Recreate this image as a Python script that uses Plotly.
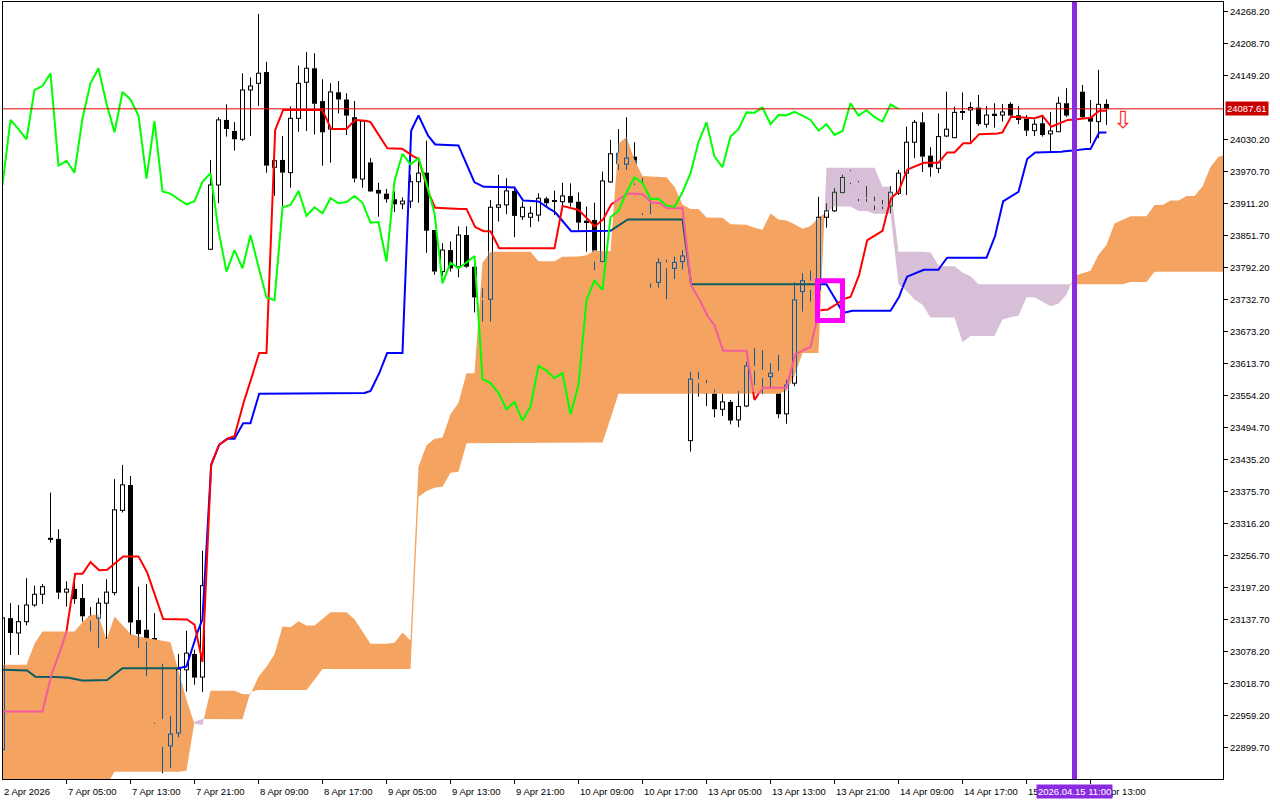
import plotly.graph_objects as go

# ---------------- data (H1 bars, index 0..138) ----------------
opens = [22896, 23140.6, 23113, 23134, 23165, 23185, 23290, 23288, 23189, 23195,
         23178, 23144, 23140.5, 23168.5, 23188, 23341, 23388, 23137, 23119, 23103,
         22953, 22903, 22927, 23044.5, 23074, 23031, 23826.5, 23946, 24067, 24046.5,
         24031, 24122.7, 24135, 24156, 23979, 23992.6, 23969, 24070, 24137, 24163,
         24102, 24050, 24118.4, 24105, 24072, 23957, 23988, 23937, 23930, 23919.5,
         23910.8, 23916, 23952, 23969, 23862.4, 23785, 23825, 23794, 23853, 23794,
         23735.5, 23733.6, 23904.6, 23909, 23935, 23887, 23886, 23890, 23921, 23917,
         23915, 23925.6, 23915, 23879.7, 23881, 23803.5, 23951.7, 24006, 23984.6, 23998.7,
         23948, 23892, 23765, 23802, 23791, 23803.5, 23470.7, 23585, 23577.5, 23560,
         23529, 23542.7, 23509.2, 23535, 23609.6, 23602, 23589.7, 23600.3, 23520.4, 23577.5,
         23747.7, 23768, 23751, 23886, 23898, 23931.8, 23972, 23951, 23922.5, 23916,
         23910, 23907, 23930.7, 23968, 24025.5, 24062.6, 24000.6, 23977, 24037, 24034,
         24083.6, 24085.5, 24090, 24059, 24078.6, 24076, 24096.7, 24075.7, 24069.3, 24047,
         24060.8, 24041, 24045, 24098, 24075, 24119.5, 24072, 24063.8, 24096.7]
highs = [23145, 23168.5, 23165, 23215, 23201, 23204, 23374, 23306, 23209, 23209,
         23204, 23161, 23178, 23213, 23399, 23425.6, 23405, 23199, 23204, 23150,
         23056, 22959, 23074, 23117, 23082, 23266, 23992.6, 24072, 24096, 24063,
         24153.7, 24146, 24264, 24175, 23991, 24037, 24092, 24168, 24193, 24191,
         24142.6, 24135, 24139.4, 24116.6, 24102, 24065, 23996, 23950, 23938.6, 23934,
         23923, 23965, 23996, 24028.4, 23862.4, 23837.7, 23841, 23869, 23869, 23813,
         23754, 23918, 23965, 23958.5, 23943, 23915, 23906, 23930.7, 23924, 23935.5,
         23950, 23949, 23932, 23906, 23913, 23971, 24030, 24050, 24072, 24025.5,
         23959, 23920, 23810, 23807, 23813, 23825, 23599, 23599, 23583.6, 23566,
         23557.5, 23546.4, 23563, 23617.6, 23642.5, 23639, 23614.6, 23630, 23583.6, 23765,
         23782, 23786.8, 23924, 23912, 23940, 23965, 23974, 23953.5, 23944, 23924.3,
         23918, 23944, 23974, 24054.5, 24067, 24081, 24016, 24079, 24119.5, 24091.6,
         24118, 24100, 24113.4, 24093, 24098, 24096.7, 24100, 24093, 24076, 24068,
         24073, 24082, 24110, 24126, 24105, 24132, 24104, 24159.9, 24105]
lows = [22892, 23072, 23072, 23127, 23162, 23167, 23281, 23176, 23162, 23167,
        23134, 23116, 23085, 23102, 23183, 23337, 23109.5, 23085, 23033, 22944,
        22852, 22862, 22919, 23004, 23017, 23003, 23825, 23912, 24036, 24010,
        24028, 24037, 24093, 23969, 23926, 23907, 23941, 24045, 24046.5, 24040,
        23982, 23987.5, 24079, 24039, 23951, 23941, 23933, 23887, 23913, 23896,
        23901, 23903, 23913, 23820, 23779, 23777, 23785, 23774.5, 23792, 23709,
        23692, 23692, 23878, 23891.6, 23849, 23881, 23867.5, 23878, 23907, 23890,
        23906, 23906, 23862.4, 23822, 23788, 23803, 23950, 23974, 23974, 23946,
        23890, 23755, 23755, 23733.6, 23771, 23789, 23450.3, 23552.5, 23535, 23514,
        23516.7, 23501, 23495.6, 23533, 23574, 23557, 23570, 23512.4, 23502, 23572,
        23710.6, 23729, 23747, 23866.7, 23896, 23931, 23947.4, 23916, 23915, 23899.6,
        23901, 23893.5, 23927.5, 23927.5, 23995.7, 23970, 23961.5, 23968, 24035, 24033,
        24067, 24026.6, 24055.8, 24052.6, 24052.6, 24063.8, 24072.5, 24059, 24037, 24037,
        24036, 24008, 24044.6, 24072.5, 24060, 24070.6, 24023.6, 24033, 24057.6]
closes = [23141, 23113, 23134, 23165, 23185, 23199, 23286, 23188, 23194.5, 23176,
          23144, 23136, 23168.5, 23189, 23342, 23388.4, 23132.4, 23111, 23097, 22946,
          22901, 22925, 23046, 23075.5, 23030, 23201, 23946, 24067, 24050, 24031,
          24122.7, 24130, 24153.7, 23982, 23991, 23969, 24070, 24135, 24163, 24097,
          24044, 24119, 24105, 24075, 23958, 24065, 23934, 23930, 23919.5, 23910,
          23916, 23952, 23968, 23861, 23785, 23825, 23791, 23853, 23794, 23737,
          23732, 23904.6, 23909, 23935, 23888.5, 23904.6, 23893.5, 23921.4, 23912, 23914.5,
          23925.6, 23913, 23876, 23877, 23803.5, 23953.5, 24004, 23984.6, 23996, 23949,
          23893.5, 23763, 23801.6, 23791, 23802, 23814, 23585, 23577.5, 23559, 23529,
          23542.7, 23508, 23534, 23609.6, 23601, 23586.7, 23596, 23519.8, 23574, 23732.3,
          23768, 23751, 23886, 23898, 23932.5, 23960, 23950, 23920, 23920.6, 23907.6,
          23905.7, 23932.5, 23968, 24025.5, 24062.6, 23998.7, 23979, 24036, 24049.7, 24081,
          24080.5, 24090, 24059, 24076, 24075.7, 24081.8, 24075, 24067, 24047, 24059,
          24039, 24046.5, 24098, 24075, 24085, 24072, 24063.8, 24096, 24087.61]

# Tenkan-sen (red) and Kijun-sen (blue), read per bar
tenkan = [22967, 22967, 22967, 22967, 22967, 22967, 23032, 23069, 23116, 23223,
          23223, 23245, 23229.5, 23229.5, 23242, 23255.3, 23255.3, 23255.3, 23229.3, 23184.8,
          23138.8, 23138.8, 23138.8, 23138.8, 23128.5, 23059, 23422.3, 23462, 23474, 23479,
          23536.4, 23578.9, 23633.5, 23633.5, 24044.5, 24085.5, 24085.5, 24085.5, 24085.5, 24085.5,
          24085.5, 24050, 24050, 24050, 24067, 24067, 24063, 24039, 24014.8, 24013.2,
          24013.2, 24001.8, 23994.5, 23942.5, 23903.7, 23902.7, 23902.7, 23901.5, 23901.5, 23868.7,
          23860.2, 23860.2, 23828.5, 23828.5, 23828.5, 23828.5, 23828.5, 23828.5, 23828.5, 23828.5,
          23907, 23903.8, 23899.5, 23886, 23869, 23879.5, 23909, 23919, 23930, 23930,
          23930, 23913.5, 23913.5, 23902.8, 23902.8, 23902.8, 23761.2, 23737.9, 23704.7, 23685.2,
          23637.7, 23637.7, 23637.7, 23637.7, 23546.4, 23569.1, 23569.1, 23569.1, 23569.1, 23630.3,
          23638.8, 23644.4, 23713, 23713, 23721, 23733.5, 23738, 23773, 23842.3, 23851.5,
          23860.5, 23920.4, 23933.8, 23974, 23980.3, 23987.3, 23987.3, 23987.3, 24006.5, 24006.5,
          24023.5, 24023.5, 24040.5, 24040.5, 24040.5, 24043.8, 24073.1, 24072.3, 24072.3, 24070,
          24074.7, 24054, 24059, 24067, 24067, 24070, 24070, 24084, 24084]
kijun = [23044.5, 23044.5, 23044.5, 23044.5, 23032, 23031, 23031, 23031, 23031, 23027,
         23024.6, 23024.6, 23024.6, 23024.6, 23037, 23047.6, 23047.6, 23047.6, 23047.6, 23047.6,
         23047.6, 23047.6, 23047.6, 23050.6, 23100, 23138.8, 23422.3, 23462, 23474, 23474,
         23502.9, 23502.9, 23558, 23558, 23558, 23558, 23558, 23558, 23558, 23558,
         23558, 23558, 23558, 23558, 23558, 23558, 23563, 23591.5, 23633.5, 23633.5,
         23633.5, 24044.5, 24075.5, 24042, 24021.5, 24020.5, 24020.5, 24019.3, 23983.8, 23951,
         23942.5, 23942.5, 23942.5, 23942.5, 23941.5, 23917.3, 23915.7, 23915.7, 23904.3, 23897,
         23878.5, 23860.2, 23860.2, 23860.2, 23860.2, 23860.2, 23861, 23871, 23882, 23882,
         23882, 23882, 23882, 23882, 23882, 23882, 23761.2, 23761.2, 23761.2, 23761.2,
         23761.2, 23761.2, 23761.2, 23761.2, 23761.2, 23761.2, 23761.2, 23761.2, 23761.2, 23761.2,
         23761.2, 23761.2, 23761.2, 23761.2, 23737.9, 23707.7, 23712.2, 23712.2, 23712.2, 23712.2,
         23712.2, 23712.2, 23734.8, 23775.1, 23781.3, 23788.3, 23788.3, 23788.3, 23810.8, 23810.8,
         23810.8, 23810.8, 23810.8, 23810.8, 23845.8, 23915.1, 23924.3, 23933.3, 23993.1, 24006.5,
         24006.5, 24006.5, 24006.5, 24009.8, 24009.8, 24012.8, 24012.8, 24043.7, 24043.7]

# Senkou span A / B, bars 0..153 (cloud runs 26 bars ahead)
span_a = [23053.8, 23053.8, 23053.8, 23053.8, 23093, 23115.7, 23115.7, 23115.7, 23115.7, 23115.7,
          23133, 23146.7, 23146.7, 23100, 23143.6, 23128, 23111.4, 23106.4, 23103.4, 23100.2,
          23098.4, 23096, 23041.7, 22989, 22944, 22942, 23005.8, 23005.8, 23005.8, 23005.8,
          22999.5, 22999, 23031.5, 23050, 23073.5, 23125, 23123.8, 23134.8, 23127, 23127,
          23139.5, 23151.5, 23151.5, 23151.5, 23138.5, 23116.2, 23093.2, 23093.2, 23093.2, 23094.7,
          23114, 23099, 23422.3, 23462, 23474, 23476.5, 23519.6, 23540.9, 23595.8, 23595.8,
          23801.3, 23821.8, 23821.8, 23821.8, 23821.8, 23821.8, 23821.8, 23804, 23804, 23804,
          23812.5, 23812.5, 23813, 23815.3, 23824.2, 23823.4, 23823.4, 24023.2, 24035, 23992.3,
          23962.6, 23961.6, 23961.6, 23960.4, 23942.6, 23909.9, 23901.4, 23901.4, 23885.5, 23885.5,
          23885, 23872.9, 23872.1, 23872.1, 23866.4, 23862.8, 23892.8, 23882, 23879.9, 23873.1,
          23864.6, 23869.9, 23885, 23895, 23906, 23906, 23906, 23897.8, 23897.8, 23892.4,
          23892.4, 23892.4, 23761.2, 23749.5, 23732.9, 23723.2, 23699.4, 23699.4, 23699.4, 23699.4,
          23653.8, 23665.1, 23665.1, 23665.1, 23665.1, 23695.7, 23700, 23702.8, 23737.1, 23737.1,
          23729.5, 23720.6, 23725.1, 23742.6, 23777.2, 23781.8, 23786.3, 23816.3, 23834.3, 23874.5,
          23880.8, 23887.8, 23887.8, 23887.8, 23908.6, 23908.6, 23917.1, 23917.1, 23925.6, 23925.6,
          23943.1, 23979.4, 23998.7, 24002.8]
span_b = [22830, 22830, 22830, 22830, 22830, 22830, 22830, 22830, 22830, 22830,
          22830, 22830, 22830, 22830, 22855, 22855, 22855, 22855, 22855, 22855,
          22855, 22855, 22855, 22857, 22948, 22953, 22952.8, 22952.8, 22952.8, 22952.8,
          22952.8, 23003.6, 23007, 23007, 23007, 23007, 23007, 23007, 23007, 23026,
          23046, 23046, 23046, 23046, 23046, 23046, 23046, 23046, 23046, 23046,
          23046, 23046, 23366, 23377, 23383, 23385, 23411, 23413, 23466, 23467,
          23467, 23467, 23467, 23467, 23467, 23467, 23467, 23467, 23467, 23467,
          23467, 23467, 23467, 23467, 23467, 23467, 23512, 23558, 23558, 23558,
          23558, 23558, 23558, 23558, 23558, 23558, 23558, 23558, 23558, 23558,
          23558, 23558, 23558, 23558, 23558, 23558, 23558, 23558, 23563, 23591.5,
          23633.5, 23633.5, 23633.5, 23978, 23978, 23978, 23978, 23978, 23978, 23978,
          23942.5, 23942.5, 23821.7, 23821.7, 23821.7, 23821.7, 23820.7, 23796.5, 23794.9, 23794.9,
          23783.5, 23776.2, 23761.2, 23761.2, 23761.2, 23761.2, 23761.2, 23761.2, 23761.2, 23761.2,
          23761.2, 23761.2, 23761.2, 23761.2, 23761.2, 23761.2, 23761.2, 23761.2, 23761.2, 23761.2,
          23761.2, 23765.7, 23765.7, 23765.7, 23784.9, 23784.9, 23784.9, 23784.9, 23784.9, 23784.9,
          23784.9, 23784.9, 23784.9, 23784.9]

chikou_shift = 26
date_ticks = [0, 8, 16, 24, 32, 40, 48, 56, 64, 72, 80, 88, 96, 104, 112, 120, 128, 136]
date_labels = ["2 Apr 2026", "7 Apr 05:00", "7 Apr 13:00", "7 Apr 21:00", "8 Apr 09:00",
               "8 Apr 17:00", "9 Apr 05:00", "9 Apr 13:00", "9 Apr 21:00", "10 Apr 09:00",
               "10 Apr 17:00", "13 Apr 05:00", "13 Apr 13:00", "13 Apr 21:00", "14 Apr 09:00",
               "14 Apr 17:00", "15 Apr 05:00", "15 Apr 13:00"]
price_ticks = [24268.20, 24208.70, 24149.20, 24030.20, 23970.70, 23911.20, 23851.70, 23792.20,
               23732.70, 23673.20, 23613.70, 23554.20, 23494.70, 23435.20, 23375.70, 23316.20,
               23256.70, 23197.20, 23137.70, 23078.20, 23018.70, 22959.20, 22899.70]
last_price = 24087.61
cursor_bar = 134
cursor_label = "2026.04.15 11:00"
signal_bar = 140
signal_price = 24066
box_bars = [101.875, 105.0]
box_prices = [23694, 23768]

# ---------------- styling ----------------
ORANGE = "#F4A460"
THISTLE = "#D8BFD8"
CANDLE_COL = {"out": "#000000", "org": "#0B5B9F", "ths": "#274027"}
RED_COL = {"out": "#FF0000", "org": "#F45B9F", "ths": "#FF0000"}
BLUE_COL = {"out": "#0000FF", "org": "#0B5B60", "ths": "#0000FF"}
FONT = "Liberation Sans"
FS = 9.5
XR = [0.0625, 152.5625]
YR = [22841.5, 24286.24]
PX_PER_BAR = 8


def cloud_at(x):
    i = int(x)
    t = x - i
    if i >= len(span_a) - 1:
        i, t = len(span_a) - 2, 1.0
    a = span_a[i] + (span_a[i + 1] - span_a[i]) * t
    b = span_b[i] + (span_b[i + 1] - span_b[i]) * t
    return a, b


def region(x, v):
    a, b = cloud_at(x)
    if min(a, b) <= v <= max(a, b):
        return "org" if a >= b else "ths"
    return "out"


def pieces(i, lo, hi):
    if hi - lo <= 1e-9:
        return []
    a, b = span_a[i], span_b[i]
    cuts = sorted(set([lo, hi] + [c for c in (a, b) if lo < c < hi]))
    return [(u, v, region(i, (u + v) / 2)) for u, v in zip(cuts[:-1], cuts[1:])]


fig = go.Figure()

# ---- cloud ----
def sgn(i):
    return 1 if span_a[i] >= span_b[i] else -1

polys = []
s = sgn(0)
up, dn = [(0, span_a[0])], [(0, span_b[0])]
for i in range(len(span_a) - 1):
    s1 = sgn(i + 1)
    if s1 == s:
        up.append((i + 1, span_a[i + 1]))
        dn.append((i + 1, span_b[i + 1]))
    else:
        d0 = span_a[i] - span_b[i]
        d1 = span_a[i + 1] - span_b[i + 1]
        t = d0 / (d0 - d1)
        xc = i + t
        yc = span_a[i] + (span_a[i + 1] - span_a[i]) * t
        up.append((xc, yc))
        dn.append((xc, yc))
        polys.append((s, up, dn))
        up = [(xc, yc), (i + 1, span_a[i + 1])]
        dn = [(xc, yc), (i + 1, span_b[i + 1])]
        s = s1
polys.append((s, up, dn))
for s, up, dn in polys:
    xs = [p[0] for p in up] + [p[0] for p in reversed(dn)]
    ys = [p[1] for p in up] + [p[1] for p in reversed(dn)]
    fig.add_trace(go.Scatter(x=xs, y=ys, fill="toself", mode="lines",
                             line=dict(width=0), fillcolor=ORANGE if s == 1 else THISTLE,
                             hoverinfo="skip"))

# ---- candles ----
HALF_BODY = 0.625
OUT_OFF = 0.25
HOR_OFF = 0.3125
MIN_BODY = 1.8
seg = {r: ([], []) for r in CANDLE_COL}
bear = {r: ([], [], []) for r in CANDLE_COL}
bull_x, bull_base, bull_h = [], [], []
for i in range(len(opens)):
    o, h, l, c = opens[i], highs[i], lows[i], closes[i]
    lo, hi = min(o, c), max(o, c)
    if hi - lo < MIN_BODY:
        m = (lo + hi) / 2
        lo, hi = m - MIN_BODY / 2, m + MIN_BODY / 2
    for u, v, r in pieces(i, l, lo) + pieces(i, hi, h):
        seg[r][0].extend([i, i, None])
        seg[r][1].extend([u, v, None])
    if c < o:
        for u, v, r in pieces(i, lo, hi):
            bear[r][0].append(i)
            bear[r][1].append(u)
            bear[r][2].append(v - u)
    else:
        bull_x.append(i)
        bull_base.append(lo)
        bull_h.append(hi - lo)
        for side in (-OUT_OFF, OUT_OFF):
            for u, v, r in pieces(i, lo, hi):
                seg[r][0].extend([i + side, i + side, None])
                seg[r][1].extend([u, v, None])
        for yv in (lo, hi):
            r = region(i, yv)
            seg[r][0].extend([i - HOR_OFF, i + HOR_OFF, None])
            seg[r][1].extend([yv, yv, None])

fig.add_trace(go.Bar(x=bull_x, y=bull_h, base=bull_base, width=0.5,
                     marker=dict(color="#FFFFFF", line=dict(width=0)), hoverinfo="skip"))
for r, col in CANDLE_COL.items():
    if bear[r][0]:
        fig.add_trace(go.Bar(x=bear[r][0], y=bear[r][2], base=bear[r][1], width=HALF_BODY,
                             marker=dict(color=col, line=dict(width=0)), hoverinfo="skip"))
for r, col in CANDLE_COL.items():
    if seg[r][0]:
        fig.add_trace(go.Scatter(x=seg[r][0], y=seg[r][1], mode="lines",
                                 line=dict(color=col, width=1), hoverinfo="skip"))


# ---- tenkan / kijun with in-cloud colouring ----
def split_line(vals, sub=12):
    out = {r: ([], []) for r in CANDLE_COL}
    cur = None
    for i in range(len(vals) - 1):
        v0, v1 = vals[i], vals[i + 1]
        for k in range(sub):
            t0, t1 = k / sub, (k + 1) / sub
            tm = (t0 + t1) / 2
            r = region(i + tm, v0 + (v1 - v0) * tm)
            if r != cur:
                if cur is not None:
                    out[cur][0].append(None)
                    out[cur][1].append(None)
                out[r][0].append(i + t0)
                out[r][1].append(v0 + (v1 - v0) * t0)
                cur = r
            out[r][0].append(i + t1)
            out[r][1].append(v0 + (v1 - v0) * t1)
    return out

for vals, cols in ((kijun, BLUE_COL), (tenkan, RED_COL)):
    parts = split_line(vals)
    for r, (xs, ys) in parts.items():
        if xs:
            fig.add_trace(go.Scatter(x=xs, y=ys, mode="lines",
                                     line=dict(color=cols[r], width=2), hoverinfo="skip"))

# ---- chikou (close plotted 26 bars back) ----
ch_x = [i - chikou_shift for i in range(chikou_shift, len(closes))]
ch_y = closes[chikou_shift:]
fig.add_trace(go.Scatter(x=ch_x, y=ch_y, mode="lines",
                         line=dict(color="#00FF00", width=2), hoverinfo="skip"))

# ---- shapes ----
fig.add_shape(type="line", xref="paper", x0=0, x1=1, y0=last_price, y1=last_price,
              line=dict(color="#E00000", width=1), layer="above")
fig.add_shape(type="rect", x0=box_bars[0], x1=box_bars[1], y0=box_prices[0], y1=box_prices[1],
              line=dict(color="#FF00FF", width=5), layer="above")
fig.add_shape(type="line", yref="paper", x0=cursor_bar, x1=cursor_bar, y0=0, y1=1,
              line=dict(color="#8A2BE2", width=5), layer="above")

# ---- annotations ----
ann = []
for t, lab in zip(date_ticks, date_labels):
    xa = max(t, XR[0])
    ann.append(dict(x=xa, y=-12.5 / 777, xref="x", yref="paper", text=lab, showarrow=False,
                    xanchor="left", yanchor="middle",
                    xshift=-1 + (t - xa) * PX_PER_BAR,
                    font=dict(family=FONT, size=FS, color="#000000")))
ann.append(dict(x=1, y=last_price, xref="paper", yref="y", text=f"{last_price:.2f}",
                showarrow=False, xanchor="left", yanchor="middle", xshift=2,
                bgcolor="#C80000", borderpad=1,
                font=dict(family=FONT, size=FS, color="#FFFFFF")))
ann.append(dict(x=cursor_bar, y=-12.5 / 777, xref="x", yref="paper", text=cursor_label,
                showarrow=False, xanchor="center", yanchor="middle",
                bgcolor="#8A2BE2", borderpad=1,
                font=dict(family=FONT, size=FS, color="#FFFFFF")))
ann.append(dict(x=signal_bar, y=signal_price, xref="x", yref="y", text="\u21e9",
                showarrow=False, xanchor="center", yanchor="middle",
                font=dict(family="DejaVu Sans", size=24, color="#FF2A2A")))

fig.update_layout(
    width=1280, height=800,
    margin=dict(l=3, r=57, t=2, b=21),
    paper_bgcolor="#FFFFFF", plot_bgcolor="#FFFFFF",
    showlegend=False, barmode="overlay",
    annotations=ann,
    xaxis=dict(range=XR, showgrid=False, zeroline=False, showline=True, mirror=True,
               linecolor="#000000", linewidth=1, ticks="outside", ticklen=4,
               tickcolor="#000000", tickvals=date_ticks, showticklabels=False,
               fixedrange=True),
    yaxis=dict(range=YR, side="right", showgrid=False, zeroline=False, showline=True,
               mirror=True, linecolor="#000000", linewidth=1, ticks="outside", ticklen=4,
               tickcolor="#000000", tickvals=price_ticks,
               ticktext=[f"{v:.2f}" for v in price_ticks],
               tickfont=dict(family=FONT, size=FS, color="#000000"), fixedrange=True),
)

fig.write_html("out.html", config={"displayModeBar": False},
               post_script="document.body.style.margin='0px';document.body.style.overflow='hidden';")
